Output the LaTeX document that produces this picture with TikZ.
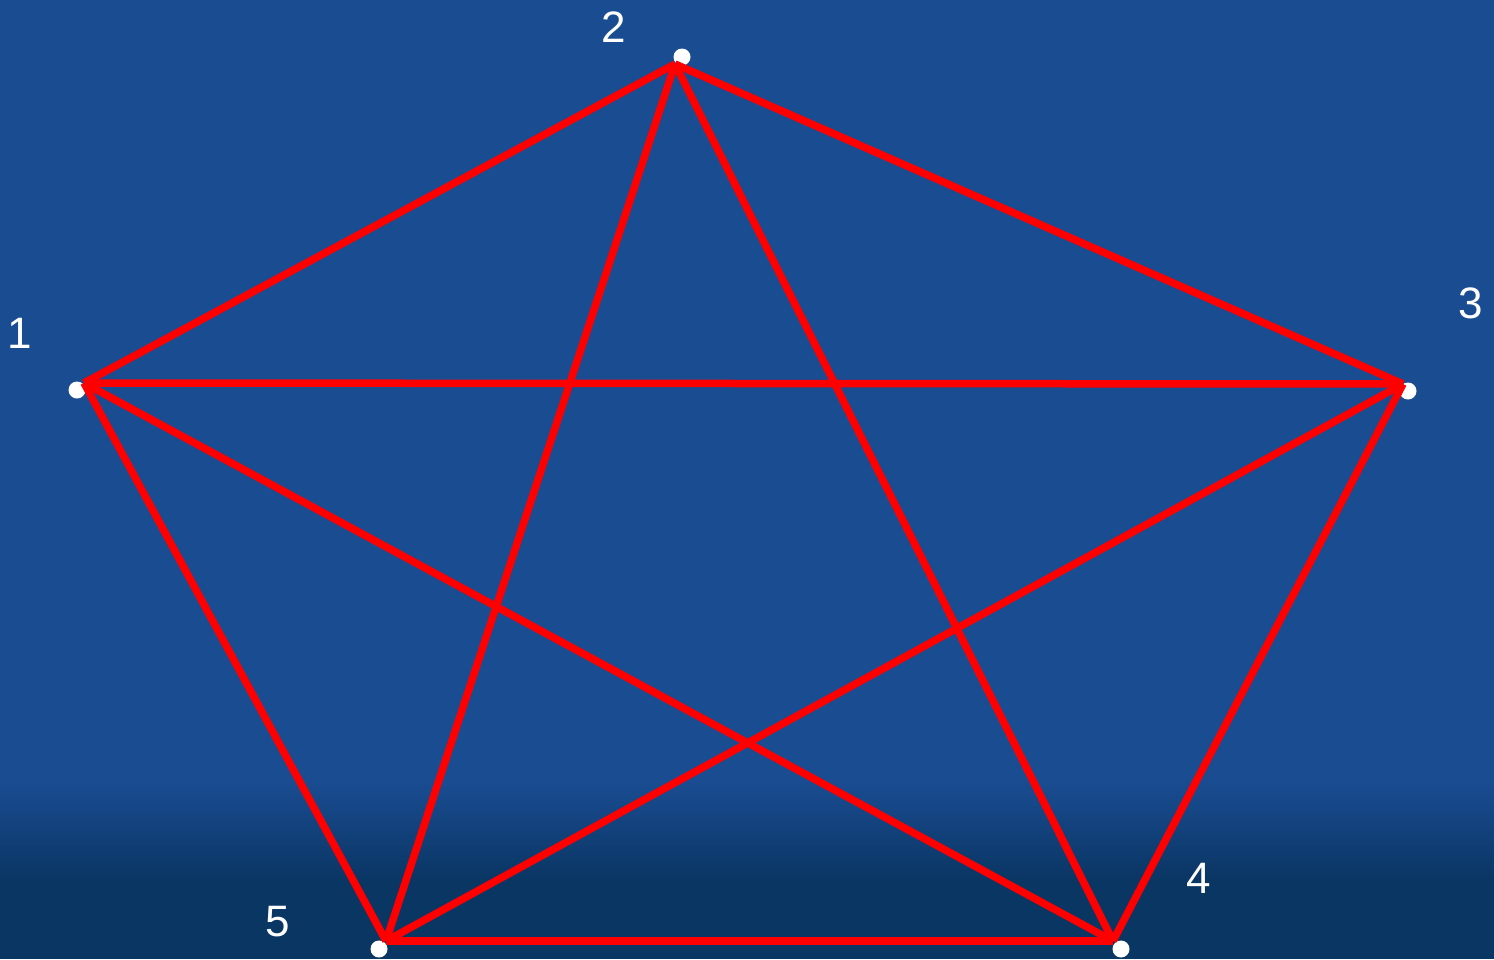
\documentclass[tikz,border=0pt]{standalone}
\usepackage{fontspec}
\setmainfont{Liberation Sans}
\definecolor{bgblue}{RGB}{26,76,146}
\definecolor{bgdark}{RGB}{10,54,100}
\definecolor{edgered}{RGB}{255,0,0}
\begin{document}
\begin{tikzpicture}[x=1pt,y=-1pt,
  edge/.style={draw=edgered,line width=7.5pt},
  dot/.style={circle,fill=white,inner sep=0pt,minimum size=17pt},
  lbl/.style={text=white,font=\fontsize{44}{44}\selectfont,inner sep=0pt}]
\useasboundingbox (0,0) rectangle (1494,959);
\fill[bgblue] (0,0) rectangle (1494,959);
\shade[top color=bgblue,bottom color=bgdark] (0,780) rectangle (1494,880);
\fill[bgdark] (0,880) rectangle (1494,959);
% dots
\node[dot] (d1) at (77,390) {};
\node[dot] (d2) at (682,57) {};
\node[dot] (d3) at (1408,391) {};
\node[dot] (d4) at (1121,949) {};
\node[dot] (d5) at (379,949) {};
% edge meeting points
\coordinate (v1) at (84,383);
\coordinate (v2) at (675,64);
\coordinate (v3) at (1403,384);
\coordinate (v4) at (1113,941);
\coordinate (v5) at (386,941);
% edges
\draw[edge] (v1) -- (v2);
\draw[edge] (v2) -- (v3);
\draw[edge] (v3) -- (v4);
\draw[edge] (v4) -- (v5);
\draw[edge] (v5) -- (v1);
\draw[edge] (v1) -- (v3);
\draw[edge] (v1) -- (v4);
\draw[edge] (v2) -- (v4);
\draw[edge] (v2) -- (v5);
\draw[edge] (v3) -- (v5);
% labels
\node[lbl] (l1) at (20,333) {1};
\node[lbl] (l2) at (614,27) {2};
\node[lbl] (l3) at (1471,303) {3};
\node[lbl] (l4) at (1199,878) {4};
\node[lbl] (l5) at (278,922) {5};
\end{tikzpicture}
\end{document}
